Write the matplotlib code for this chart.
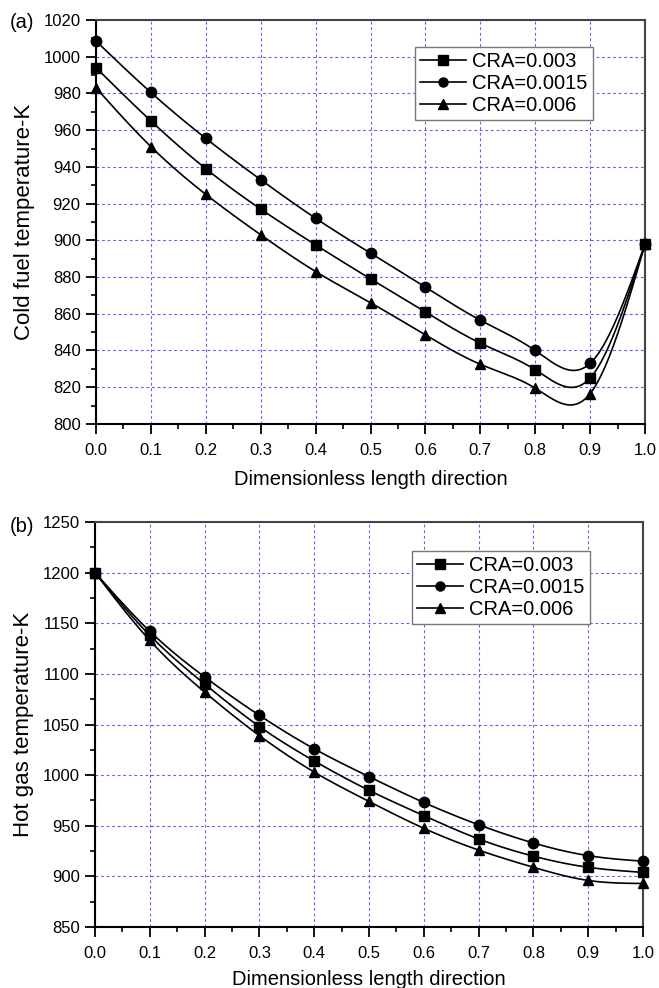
import numpy as np
import matplotlib
matplotlib.use("Agg")
import matplotlib.pyplot as plt
from matplotlib.ticker import MultipleLocator, FormatStrFormatter

plt.rcParams['font.family'] = ['Liberation Sans', 'DejaVu Sans']

# dimensionless position along the exchanger
x = [0.0, 0.1, 0.2, 0.3, 0.4, 0.5, 0.6, 0.7, 0.8, 0.9, 1.0]
labels = ["CRA=0.003", "CRA=0.0015", "CRA=0.006"]
markers = ["s", "o", "^"]

# (a) cold fuel temperature, K
cold_003 = [994, 965, 939, 917, 897.5, 879, 861, 844, 829.5, 825, 898]
cold_0015 = [1008.5, 980.5, 955.5, 933, 912, 893, 874.5, 856.5, 840, 833, 898]
cold_006 = [983, 951, 925, 903, 883, 866, 848.5, 832.5, 819.5, 816.5, 898]

# (b) hot gas temperature, K
hot_003 = [1200, 1138, 1090, 1048, 1014, 985, 960, 937, 920, 909, 904]
hot_0015 = [1200, 1142, 1097, 1059, 1026, 998.5, 973, 951, 933, 920.5, 915]
hot_006 = [1200, 1133, 1082, 1039, 1003, 974, 947.5, 926, 909, 896, 893]


def natural_spline(xs, ys, n=400):
    # smooth curve through the points (natural cubic spline)
    xs = np.asarray(xs, float)
    ys = np.asarray(ys, float)
    k = len(xs)
    h = np.diff(xs)
    A = np.zeros((k, k))
    b = np.zeros(k)
    A[0, 0] = A[-1, -1] = 1
    for i in range(1, k - 1):
        A[i, i - 1] = h[i - 1]
        A[i, i] = 2 * (h[i - 1] + h[i])
        A[i, i + 1] = h[i]
        b[i] = 6 * ((ys[i + 1] - ys[i]) / h[i] - (ys[i] - ys[i - 1]) / h[i - 1])
    M = np.linalg.solve(A, b)
    xf = np.linspace(xs[0], xs[-1], n)
    idx = np.clip(np.searchsorted(xs, xf) - 1, 0, k - 2)
    x0, x1 = xs[idx], xs[idx + 1]
    hh = x1 - x0
    t0, t1 = x1 - xf, xf - x0
    yf = (M[idx] * t0 ** 3 + M[idx + 1] * t1 ** 3) / (6 * hh) \
        + (ys[idx] / hh - M[idx] * hh / 6) * t0 \
        + (ys[idx + 1] / hh - M[idx + 1] * hh / 6) * t1
    return xf, yf


def draw_panel(ax, series, ylim, ystep, yminor, ylabel, legend_xy, xpad):
    for ys, lab, mk in zip(series, labels, markers):
        xf, yf = natural_spline(x, ys)
        ax.plot(xf, yf, color='black', linewidth=1.2)
        ax.plot(x, ys, linestyle='none', marker=mk, markersize=7.5,
                color='black', clip_on=False, zorder=3)
        ax.plot([], [], color='black', linewidth=1.2, marker=mk, markersize=6.5, label=lab)
    ax.set_xlim(0, 1)
    ax.set_ylim(*ylim)
    ax.xaxis.set_major_locator(MultipleLocator(0.1))
    ax.xaxis.set_minor_locator(MultipleLocator(0.05))
    ax.xaxis.set_major_formatter(FormatStrFormatter('%.1f'))
    ax.yaxis.set_major_locator(MultipleLocator(ystep))
    ax.yaxis.set_minor_locator(MultipleLocator(yminor))
    ax.tick_params(which='major', direction='out', length=7, width=1.3, labelsize=12, pad=4)
    ax.tick_params(which='minor', direction='out', length=3.5, width=1.2)
    ax.tick_params(axis='x', pad=7)
    for s in ax.spines.values():
        s.set_linewidth(1.5)
    ax.spines['top'].set_color('#444444')
    ax.spines['right'].set_color('#444444')
    ax.grid(True, which='major', color='#6060ff', linestyle=(0, (2.5, 2.5)), linewidth=0.8)
    ax.set_axisbelow(True)
    ax.set_xlabel("Dimensionless length direction", fontsize=14.5, labelpad=xpad)
    ax.set_ylabel(ylabel, fontsize=16, labelpad=6)
    leg = ax.legend(loc='upper left', bbox_to_anchor=legend_xy, borderaxespad=0,
                    fontsize=14.5, handlelength=2.3, handletextpad=0.3,
                    labelspacing=0.15, borderpad=0.25, fancybox=False, framealpha=1)
    leg.get_frame().set_edgecolor('#777777')
    leg.get_frame().set_linewidth(1.0)


fig = plt.figure(figsize=(6.59, 9.88), dpi=100)
ax1 = fig.add_axes([0.1457, 0.5709, 0.8331, 0.4089])
ax2 = fig.add_axes([0.1442, 0.0617, 0.8315, 0.4100])

draw_panel(ax1, [cold_003, cold_0015, cold_006], (800, 1020), 20, 10,
           "Cold fuel temperature-K", (0.581, 0.933), 8)
draw_panel(ax2, [hot_003, hot_0015, hot_006], (850, 1250), 50, 25,
           "Hot gas temperature-K", (0.578, 0.928), 6)

fig.text(0.015, 0.977, "(a)", fontsize=14.5, va='center', ha='left')
fig.text(0.015, 0.467, "(b)", fontsize=14.5, va='center', ha='left')

fig.savefig("out.png", dpi=100)
